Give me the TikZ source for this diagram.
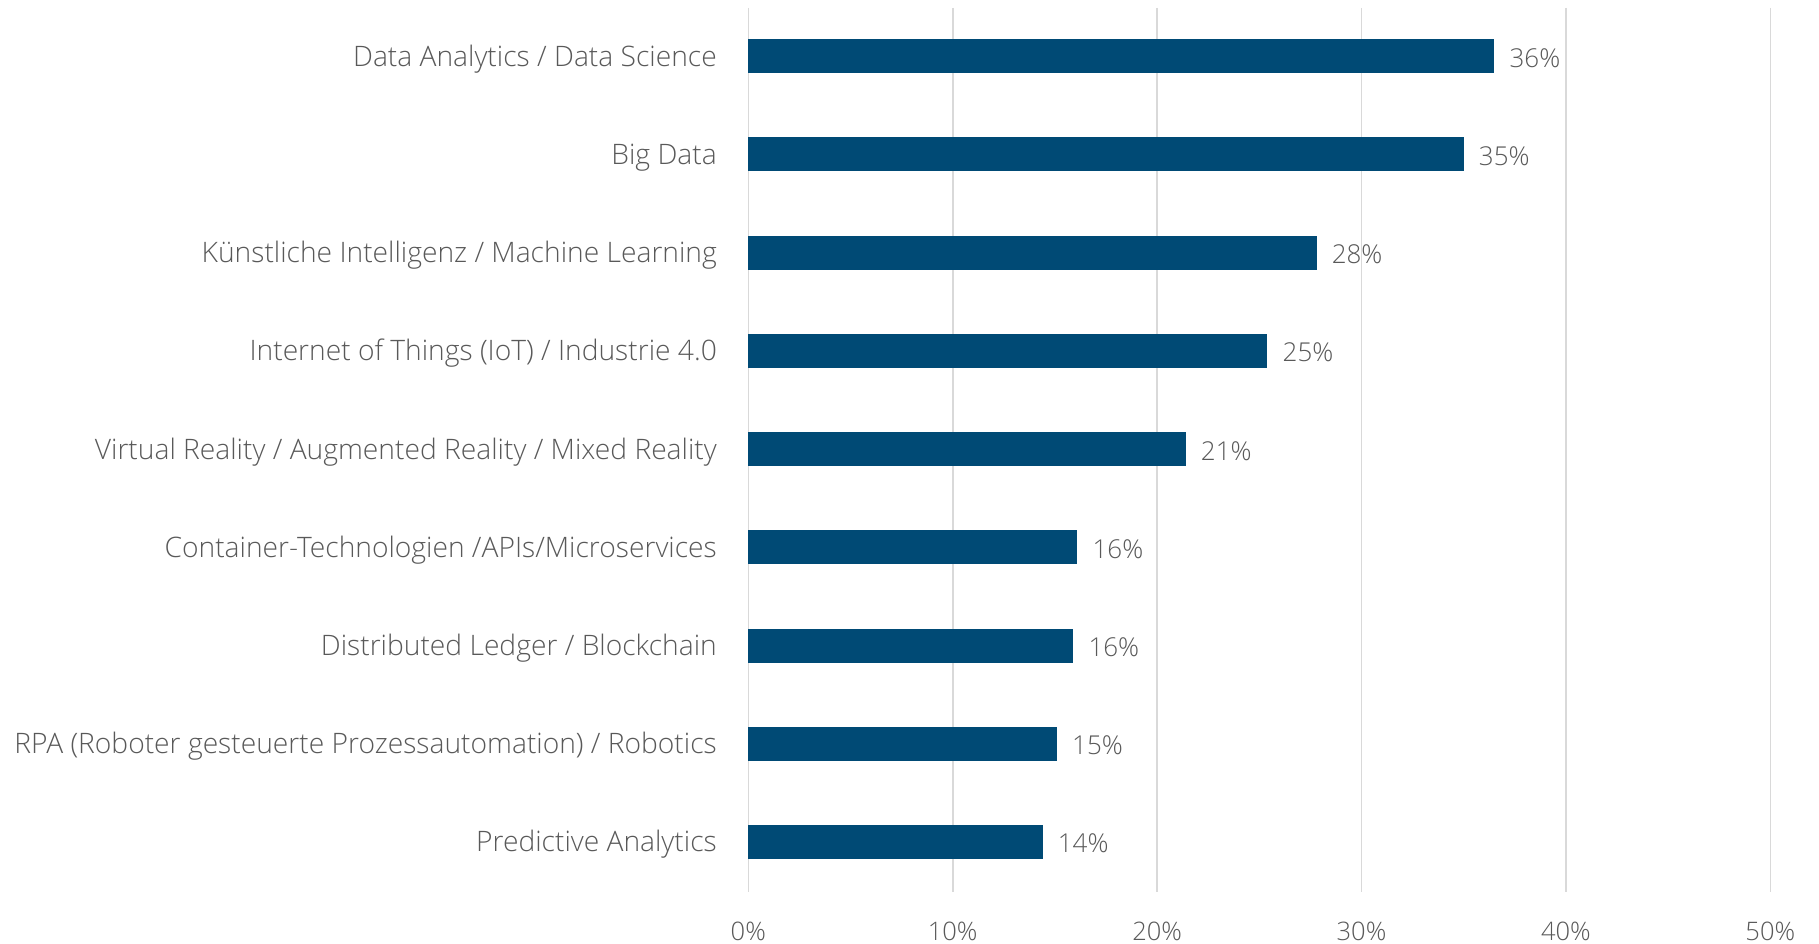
\documentclass[tikz,border=0pt]{standalone}
\usepackage{fontspec}
\setmainfont{Open Sans}[UprightFont={* Light}]
\definecolor{barblue}{RGB}{0,74,117}
\definecolor{txtgray}{RGB}{89,89,89}
\definecolor{gridgray}{RGB}{217,217,217}
\begin{document}
\begin{tikzpicture}[x=1pt,y=-1pt,
  gridline/.style={draw=gridgray,line width=1.6pt},
  barbox/.style={fill=barblue,draw=none},
  catlabel/.style={anchor=base east,inner sep=0pt,text=txtgray,font=\fontsize{28.2}{32}\selectfont},
  vallabel/.style={anchor=base west,inner sep=0pt,text=txtgray,font=\fontsize{26}{30}\selectfont},
  ticklabel/.style={anchor=base,inner sep=0pt,text=txtgray,font=\fontsize{25.5}{30}\selectfont}]
\useasboundingbox (0,0) rectangle (1819,944);
\foreach \i in {0,...,5}{
  \draw[gridline] ({748.3+204.4*\i},8) -- ({748.3+204.4*\i},892);
  \pgfmathtruncatemacro{\pc}{10*\i}
  \node[ticklabel] (tick\i) at ({748.3+204.4*\i},940) {\pc\%};
}
\foreach [count=\n] \v/\t/\p in {
  36.5/{Data Analytics / Data Science}/36,
  35.0/{Big Data}/35,
  27.8/{Künstliche Intelligenz / Machine Learning}/28,
  25.4/{Internet of Things (IoT) / Industrie 4.0}/25,
  21.4/{Virtual Reality / Augmented Reality / Mixed Reality}/21,
  16.1/{Container-Technologien /APIs/Microservices}/16,
  15.9/{Distributed Ledger / Blockchain}/16,
  15.1/{RPA (Roboter gesteuerte Prozessautomation) / Robotics}/15,
  14.4/{Predictive Analytics}/14}{
  \pgfmathsetmacro{\yc}{56.3+98.2*(\n-1)}
  \pgfmathsetmacro{\xe}{748.3+20.44*\v}
  \fill[barbox] (748.3,{\yc-17}) rectangle (\xe,{\yc+17});
  \node[catlabel] (cat\n) at (717,{\yc+10}) {\t};
  \node[vallabel] (val\n) at ({\xe+15},{\yc+11}) {\p\%};
}
\end{tikzpicture}
\end{document}
